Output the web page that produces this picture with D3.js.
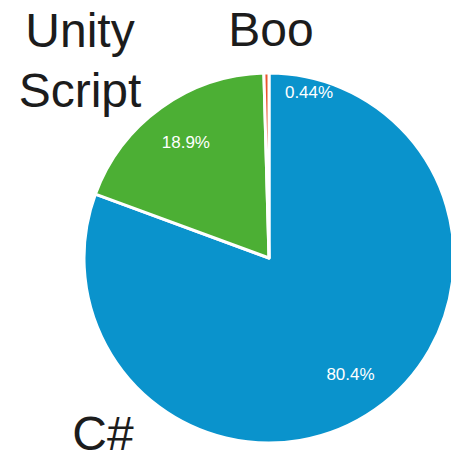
<!DOCTYPE html>
<html><head><meta charset="utf-8">
<script src="https://cdn.jsdelivr.net/npm/d3@7/dist/d3.min.js"></script>
<style>html,body{margin:0;padding:0;background:#fff;overflow:hidden}</style>
</head><body>
<svg id="chart" width="451" height="453"></svg>
<script>
const languages = ["C#", "UnityScript", "Boo"];
const shares = [80.4, 18.9, 0.44];
const percentLabels = ["80.4%", "18.9%", "0.44%"];
const nameLines = [["C#"], ["Unity", "Script"], ["Boo"]];
const colors = ["#0a93cc", "#4caf34", "#e9542b"];

const svg = d3.select("#chart");
const cx = 269, cy = 258, r = 185;
const data = languages.map((name, i) => ({name, value: shares[i], pct: percentLabels[i], lines: nameLines[i], color: colors[i]}));

const pie = d3.pie().value(d => d.value).sort(null).startAngle(0).endAngle(2 * Math.PI);
const arcs = pie(data);
const arc = d3.arc().innerRadius(0).outerRadius(r);
const labelArc = d3.arc().innerRadius(r * 0.77).outerRadius(r * 0.77);

const g = svg.append("g").attr("transform", `translate(${cx},${cy})`);
g.selectAll("path").data(arcs).enter().append("path")
  .attr("d", arc)
  .attr("fill", d => d.data.color)
  .attr("stroke", "#fff")
  .attr("stroke-width", 3)
  .attr("stroke-linejoin", "round");

// percentage labels (small slice label nudged into neighbour, as in the original)
const pctOffsets = [[0, 0], [0, 0], [42, -23]];
g.selectAll("text.pct").data(arcs).enter().append("text")
  .attr("class", "pct")
  .attr("x", (d, i) => labelArc.centroid(d)[0] + pctOffsets[i][0])
  .attr("y", (d, i) => labelArc.centroid(d)[1] + pctOffsets[i][1])
  .attr("text-anchor", "middle")
  .attr("dominant-baseline", "central")
  .attr("fill", "#fff")
  .style("font-family", "'Liberation Sans', Arial, sans-serif")
  .style("font-size", "17px")
  .text(d => d.data.pct);

// outside name labels
const namePos = [[103, 450], [80, 47], [271, 46]];
data.forEach((d, i) => {
  const t = svg.append("text")
    .attr("x", namePos[i][0]).attr("y", namePos[i][1])
    .attr("text-anchor", "middle")
    .attr("fill", "#1c1c1c")
    .style("font-family", "'Liberation Sans', Arial, sans-serif")
    .style("font-size", "48px");
  d.lines.forEach((line, j) => {
    t.append("tspan").attr("x", namePos[i][0]).attr("dy", j === 0 ? 0 : 60).text(line);
  });
});
</script>
</body></html>
